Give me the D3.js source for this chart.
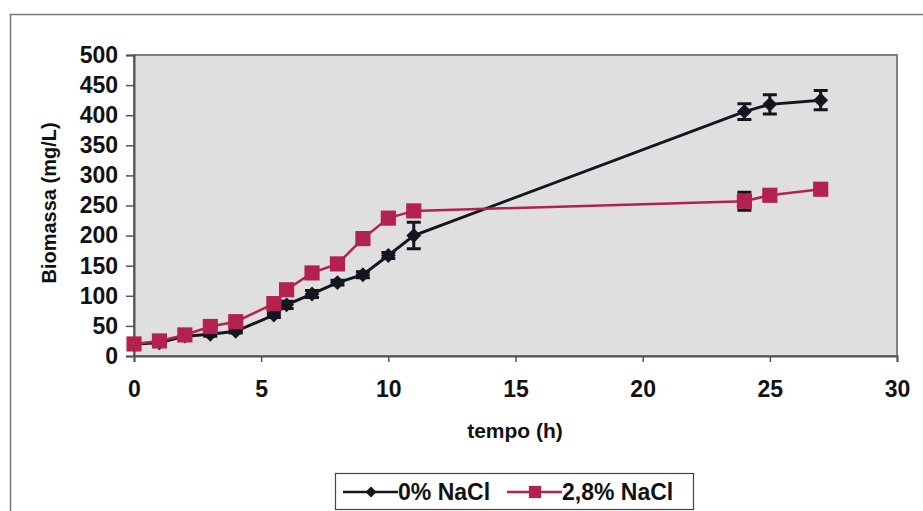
<!DOCTYPE html>
<html>
<head>
<meta charset="utf-8">
<script src="https://cdn.jsdelivr.net/npm/d3@7"></script>
<style>
  body { margin: 0; background: #fff; }
  svg text { font-family: "Liberation Sans", Arial, sans-serif; font-weight: bold; fill: #111; }
</style>
</head>
<body>
<svg width="923" height="511"></svg>
<script>
// dati
var tempo = [0, 1, 2, 3, 4, 5.5, 6, 7, 8, 9, 10, 11, 24, 25, 27];
var nacl0 = [20, 22, 33, 36, 41, 68, 85, 103, 122, 135, 167, 200, 406, 418, 425];
var nacl0Err = [3, 2, 2, 3, 3, 4, 6, 6, 4, 5, 5, 22, 13, 16, 16];
var nacl28 = [20, 25, 35, 49, 57, 87, 110, 138, 153, 195, 229, 241, 257, 267, 277];
var nacl28Err = [0, 0, 0, 0, 0, 0, 0, 0, 0, 0, 0, 0, 15, 0, 0];
var xTicks = [0, 5, 10, 15, 20, 25, 30];
var yTicks = [0, 50, 100, 150, 200, 250, 300, 350, 400, 450, 500];
var seriesNames = ["0% NaCl", "2,8% NaCl"];

var W = 923, H = 511;
var pLeft = 134, pRight = 897, pTop = 55, pBottom = 356;
var colBlack = "#151520", colRed = "#b3214f";

var svg = d3.select("svg");

// bordo esterno (solo sinistra e sopra visibili)
svg.append("path")
  .attr("d", "M10.5," + H + "V14.5H" + W)
  .attr("fill", "none").attr("stroke", "#777").attr("stroke-width", 1.5);

var x = d3.scaleLinear().domain([0, 30]).range([pLeft, pRight]);
var y = d3.scaleLinear().domain([0, 500]).range([pBottom, pTop]);

// area del grafico
svg.append("rect")
  .attr("x", pLeft).attr("y", pTop)
  .attr("width", pRight - pLeft).attr("height", pBottom - pTop)
  .attr("fill", "#dfdfdf").attr("stroke", "#808080").attr("stroke-width", 2);

// assi
var gy = svg.append("g")
  .attr("transform", "translate(" + pLeft + ",0)")
  .call(d3.axisLeft(y).tickValues(yTicks).tickSize(8).tickPadding(8));
var gx = svg.append("g")
  .attr("transform", "translate(0," + pBottom + ")")
  .call(d3.axisBottom(x).tickValues(xTicks).tickSize(6).tickPadding(19));
[gx, gy].forEach(function(g) {
  g.select(".domain").attr("stroke", "#555").attr("stroke-width", 2);
  g.selectAll(".tick line").attr("stroke", "#555").attr("stroke-width", 1.5);
  g.selectAll("text").style("font-size", "23px").attr("fill", "#111");
});

svg.append("text")
  .attr("transform", "translate(56,203) rotate(-90)")
  .attr("text-anchor", "middle")
  .style("font-size", "20px")
  .text("Biomassa (mg/L)");
svg.append("text")
  .attr("x", 515).attr("y", 438)
  .attr("text-anchor", "middle")
  .style("font-size", "21px")
  .text("tempo (h)");

var data0 = tempo.map(function(t, i) { return {t: t, v: nacl0[i], e: nacl0Err[i]}; });
var data28 = tempo.map(function(t, i) { return {t: t, v: nacl28[i], e: nacl28Err[i]}; });

var line = d3.line().x(function(d) { return x(d.t); }).y(function(d) { return y(d.v); });

function drawErr(data) {
  var g = svg.append("g");
  data.filter(function(d) { return d.e > 0; }).forEach(function(d) {
    var cx = x(d.t), y1 = y(d.v + d.e), y2 = y(d.v - d.e);
    g.append("path")
      .attr("d", "M" + cx + "," + y1 + "V" + y2 +
        "M" + (cx - 7) + "," + y1 + "H" + (cx + 7) +
        "M" + (cx - 7) + "," + y2 + "H" + (cx + 7))
      .attr("fill", "none").attr("stroke", colBlack).attr("stroke-width", 3);
  });
}

// serie 0% NaCl (disegnata per prima, come in Excel)
svg.append("path").datum(data0)
  .attr("d", line).attr("fill", "none").attr("stroke", colBlack).attr("stroke-width", 3);
drawErr(data0);
svg.append("g").selectAll("path").data(data0).enter().append("path")
  .attr("transform", function(d) { return "translate(" + x(d.t) + "," + y(d.v) + ") rotate(45)"; })
  .attr("d", d3.symbol(d3.symbolSquare, 110))
  .attr("fill", colBlack);

// serie 2,8% NaCl
svg.append("path").datum(data28)
  .attr("d", line).attr("fill", "none").attr("stroke", colRed).attr("stroke-width", 2.5);
drawErr(data28);
svg.append("g").selectAll("path").data(data28).enter().append("path")
  .attr("transform", function(d) { return "translate(" + x(d.t) + "," + y(d.v) + ")"; })
  .attr("d", d3.symbol(d3.symbolSquare, 230))
  .attr("fill", colRed);

// legenda
var leg = svg.append("g");
leg.append("rect")
  .attr("x", 335.5).attr("y", 473.5).attr("width", 358).attr("height", 36)
  .attr("fill", "#fff").attr("stroke", "#444").attr("stroke-width", 1.2);
var legItems = [
  {name: seriesNames[0], col: colBlack, sym: d3.symbolSquare, size: 60, rot: 45, x0: 343},
  {name: seriesNames[1], col: colRed, sym: d3.symbolSquare, size: 150, rot: 0, x0: 507}
];
legItems.forEach(function(it) {
  var cy = 492;
  leg.append("line").attr("x1", it.x0).attr("x2", it.x0 + 55)
    .attr("y1", cy).attr("y2", cy).attr("stroke", it.col).attr("stroke-width", 2.5);
  leg.append("path").attr("transform", "translate(" + (it.x0 + 28) + "," + cy + ") rotate(" + it.rot + ")")
    .attr("d", d3.symbol(it.sym, it.size)).attr("fill", it.col);
  leg.append("text").attr("x", it.x0 + 55).attr("y", cy + 8)
    .style("font-size", "23px").text(it.name);
});
</script>
</body>
</html>
